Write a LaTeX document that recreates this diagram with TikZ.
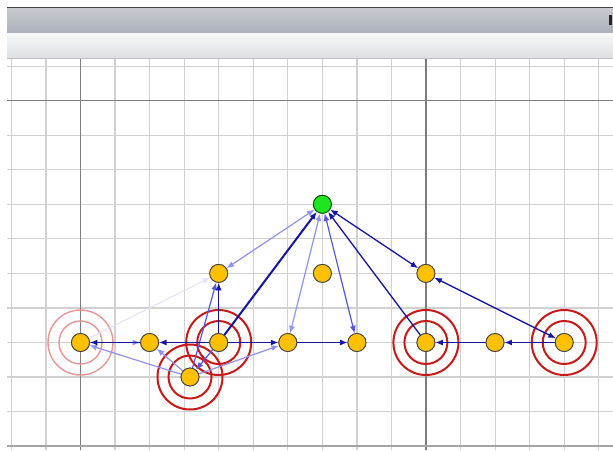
\documentclass[tikz,border=0pt]{standalone}
\usetikzlibrary{arrows.meta}
\definecolor{gridc}{RGB}{208,208,208}
\definecolor{gridd}{RGB}{125,125,125}
\definecolor{nodey}{RGB}{255,192,0}
\definecolor{nodeg}{RGB}{30,230,30}
\definecolor{ringr}{RGB}{200,25,25}
\definecolor{ringf}{RGB}{232,150,150}
\definecolor{edark}{RGB}{20,20,165}
\definecolor{emed}{RGB}{85,85,225}
\definecolor{elight}{RGB}{145,145,240}
\definecolor{efaint}{RGB}{225,225,250}
\definecolor{barA}{RGB}{200,203,210}
\definecolor{barB}{RGB}{172,176,184}
\definecolor{barC}{RGB}{247,247,249}
\definecolor{barD}{RGB}{222,223,227}
\begin{document}
\begin{tikzpicture}[x=1pt,y=-1pt,
  dot/.style={circle,draw=black!75,line width=0.8pt,fill=nodey,minimum size=18pt,inner sep=0pt},
  gdot/.style={dot,fill=nodeg,draw=black!70!green},
  ring/.style={draw=ringr,line width=2pt},
  fring/.style={draw=ringf,line width=1.4pt},
  tip/.style={-{Latex[length=7.5pt,width=6pt]}},
  btip/.style={{Latex[length=7.5pt,width=6pt]}-{Latex[length=7.5pt,width=6pt]}},
  dk/.style={draw=edark,line width=1.3pt},
  md/.style={draw=emed,line width=1.2pt},
  lt/.style={draw=elight,line width=1.2pt},
  ft/.style={draw=efaint,line width=1.1pt}]
\useasboundingbox (0,0) rectangle (613,450);
\fill[white] (0,0) rectangle (613,450);
% header bars
\shade[top color=barA,bottom color=barB] (7,7.5) rectangle (613,33);
\draw[black!75,line width=1.2pt] (7,7.5) -- (613,7.5);
\draw[black!45,line width=1pt] (7,33) -- (613,33);
\shade[top color=barC,bottom color=barD] (7,33.5) rectangle (613,58);
\draw[black!25,line width=0.8pt] (7,58) -- (613,58);
\fill[black!85] (609,15) rectangle (612,25);
% grid
\foreach \k in {-2,...,15}{
  \draw[gridc,line width=1.2pt] ({80.5+34.55*\k},59) -- ({80.5+34.55*\k},450);}
\foreach \k in {-8,...,3}{
  \draw[gridc,line width=1.2pt] (7,{342.5+34.55*\k}) -- (613,{342.5+34.55*\k});}
\draw[gridd,line width=1.2pt] (80.5,59) -- (80.5,450);
\draw[gridd,line width=1.2pt] (425.9,59) -- (425.9,450);
\draw[gridd,line width=1.2pt] (7,100.6) -- (613,100.6);
\draw[gridd!70,line width=1.6pt] (7,446.2) -- (613,446.2);
% node positions
\coordinate (pG) at (322.4,204.3);
\coordinate (pA) at (218.7,273.4);
\coordinate (pB) at (322.4,273.4);
\coordinate (pC) at (425.9,273.4);
\coordinate (pD) at (80.5,342.5);
\coordinate (pE) at (149.6,342.5);
\coordinate (pF) at (218.7,342.5);
\coordinate (pH) at (287.8,342.5);
\coordinate (pI) at (356.9,342.5);
\coordinate (pJ) at (425.9,342.5);
\coordinate (pK) at (495.0,342.5);
\coordinate (pL) at (564.2,342.5);
\coordinate (pM) at (190.0,377.0);
% rings
\draw[fring] (pD) circle (21.5) (pD) circle (32.5);
\draw[ring] (pF) circle (21.5) (pF) circle (32.5);
\draw[ring] (pM) circle (21.5) (pM) circle (32.5);
\draw[ring] (pJ) circle (21.5) (pJ) circle (32.5);
\draw[ring] (pL) circle (21.5) (pL) circle (32.5);
% nodes
\node[gdot] (G) at (pG) {};
\node[dot] (A) at (pA) {};
\node[dot] (B) at (pB) {};
\node[dot] (C) at (pC) {};
\node[dot] (D) at (pD) {};
\node[dot] (E) at (pE) {};
\node[dot] (F) at (pF) {};
\node[dot] (H) at (pH) {};
\node[dot] (I) at (pI) {};
\node[dot] (J) at (pJ) {};
\node[dot] (K) at (pK) {};
\node[dot] (L) at (pL) {};
\node[dot] (M) at (pM) {};
% edges
\draw[ft,tip] (D) -- (A);
\draw[lt,tip] (D) -- (E);
\draw[lt,btip] (A) -- (G);
\draw[lt,tip] (M) -- (D);
\draw[lt,tip] (M) -- (E);
\draw[lt,tip] (M) -- (H);
\draw[md,tip] (M) -- (A);
\draw[lt,btip] (G) -- (H);
\draw[md,btip] (G) -- (I);
\draw[md,tip] (F) -- (M);
\draw[dk,tip] (F) -- (A);
\draw[dk,tip] (E) -- (D);
\draw[dk,tip] (F) -- (E);
\draw[dk,tip] (F) -- (H);
\draw[dk,tip] (H) -- (I);
\draw[dk,line width=2pt,tip] (F) -- (G);
\draw[dk,tip] (J) -- (G);
\draw[dk,btip] (G) -- (C);
\draw[dk,tip] (K) -- (J);
\draw[dk,tip] (L) -- (K);
\draw[dk,btip] (L) -- (C);
% redraw nodes on top
\foreach \n in {A,B,C,D,E,F,H,I,J,K,L,M}{\node[dot] at (p\n) {};}
\node[gdot] at (pG) {};
\end{tikzpicture}
\end{document}
